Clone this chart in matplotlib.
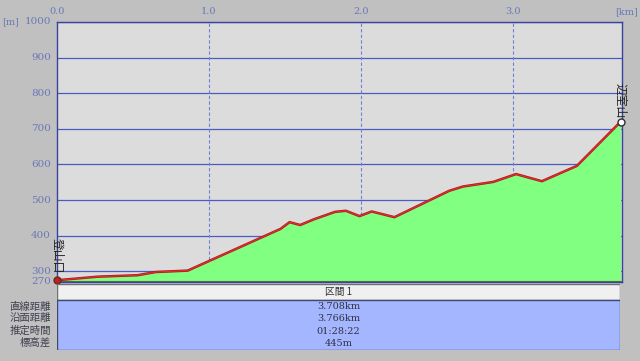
import numpy as np
import matplotlib.pyplot as plt
from matplotlib.patches import Rectangle

plt.rcParams['font.family'] = ['Noto Sans CJK JP', 'DejaVu Sans']

# profile
dist_km = [0.0, 0.27, 0.53, 0.65, 0.86, 1.47, 1.53, 1.60, 1.69, 1.83, 1.90, 1.99,
           2.07, 2.22, 2.58, 2.67, 2.87, 3.02, 3.19, 3.42, 3.708]
elev_m = [275, 285, 289, 298, 302, 419, 438, 430, 446, 467, 470, 455,
          468, 452, 526, 538, 551, 573, 553, 596, 720]

x_ticks = [0.0, 1.0, 2.0, 3.0]
y_ticks = [270, 300, 400, 500, 600, 700, 800, 900, 1000]
start_name = '登山口'
end_name = '辺室山'

section_name = '区間 1'
row_labels = ['直線距離', '沿面距離', '推定時間', '標高差']
row_values = ['3.708km', '3.766km', '01:28:22', '445m']

W, H = 640, 361
bg = '#c0c0c0'
blue_txt = '#6a78b8'
grid_col = '#4a5cc4'

def fx(px):
	return px / W

def fy(py):
	return 1 - py / H

fig = plt.figure(figsize=(6.4, 3.61), dpi=100, facecolor=bg)

ax = fig.add_axes([fx(57), fy(282), (622 - 57) / W, (282 - 22) / H])
ax.set_facecolor('#dcdcdc')
ax.set_xlim(0, 3.717)
ax.set_ylim(270, 1000)

for y in y_ticks[1:]:
	ax.axhline(y, color=grid_col, lw=0.9, zorder=1)
for x in x_ticks[1:]:
	ax.axvline(x, color='#7080d8', lw=0.8, ls=(0, (3, 2)), zorder=1)

ax.fill_between(dist_km, 270, elev_m, color='#80ff80', zorder=2, lw=0)
ax.plot(dist_km, elev_m, color='#a02020', lw=1.8, zorder=3)
ax.plot(dist_km, elev_m, color='#f02828', lw=0.8, zorder=4)
ax.axhline(270, color='#506850', lw=1.5, zorder=5)

ax.plot(dist_km[0], elev_m[0], 'o', ms=5, mfc='#c02020', mec='#603020', zorder=6, clip_on=False)
ax.plot(dist_km[-1], elev_m[-1], 'o', ms=5, mfc='white', mec='#303030', mew=1.0, zorder=6, clip_on=False)

ax.text(dist_km[0], elev_m[0] + 20, start_name, rotation=270, ha='center', va='bottom',
	fontsize=8.5, color='#202020', zorder=7, clip_on=False)
ax.text(dist_km[-1], elev_m[-1] + 10, end_name, rotation=270, ha='center', va='bottom',
	fontsize=8.5, color='#202020', zorder=7, clip_on=False)

ax.set_xticks([])
ax.set_yticks([])
for s in ax.spines.values():
	s.set_color('#3a44a0')
	s.set_linewidth(1.0)

# tick labels
for y in y_ticks:
	ypix = 282 - (y - 270) * 260 / 730
	fig.text(fx(51), fy(ypix), str(y), ha='right', va='center', fontsize=7.5,
		color=blue_txt, family='DejaVu Serif')
for x in x_ticks:
	xpix = 57 + x * 152
	fig.text(fx(xpix), fy(12), '%.1f' % x, ha='center', va='center', fontsize=7,
		color=blue_txt, family='DejaVu Serif')
fig.text(fx(2), fy(22), '[m]', ha='left', va='center', fontsize=7, color=blue_txt, family='DejaVu Serif')
fig.text(fx(638), fy(12), '[km]', ha='right', va='center', fontsize=7, color=blue_txt, family='DejaVu Serif')

# summary table under the chart
tab = fig.add_axes([fx(57), fy(350), (620 - 57) / W, (350 - 284) / H])
tab.set_xlim(0, 1)
tab.set_ylim(0, 66)
tab.axis('off')
tab.add_patch(Rectangle((0, 50), 1, 16, facecolor='#f0f0f0', edgecolor='#707070', lw=1.0))
tab.add_patch(Rectangle((0, 0), 1, 50, facecolor='#a4b6ff', edgecolor='#404870', lw=1.0))
tab.text(0.5, 58, section_name, ha='center', va='center', fontsize=7, color='#303030')

row_y = [43.5, 31.5, 19, 7]
for yy, lab, val in zip(row_y, row_labels, row_values):
	tab.text(0.5, yy, val, ha='center', va='center', fontsize=7, color='#303040',
		family=['DejaVu Serif', 'Noto Sans CJK JP'])
	fig.text(fx(51), fy(350 - yy), lab, ha='right', va='center', fontsize=7.5, color='#404050')

fig.savefig('out.png', dpi=100, facecolor=bg)
